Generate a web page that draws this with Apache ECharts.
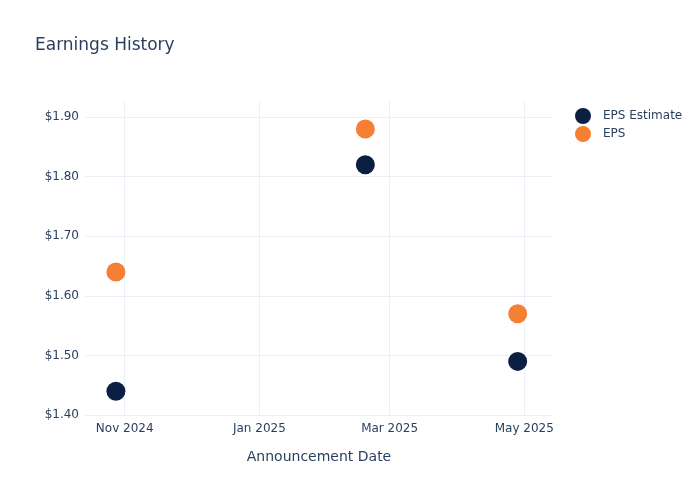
<!DOCTYPE html>
<html>
<head>
<meta charset="utf-8">
<script src="https://cdn.jsdelivr.net/npm/echarts@6/dist/echarts.min.js"></script>
<style>
  html, body { margin: 0; padding: 0; background: #fff; }
  #chart { width: 700px; height: 500px; }
</style>
</head>
<body>
<div id="chart"></div>
<script>
// announcement dates
var dates = ['2024-10-28', '2025-02-18', '2025-04-28'];
var epsEstimate = [1.44, 1.82, 1.49];
var epsActual = [1.64, 1.88, 1.57];
// tick labels on the date axis
var dateTicks = ['2024-11-01', '2025-01-01', '2025-03-01', '2025-05-01'];
var yTicks = [1.4, 1.5, 1.6, 1.7, 1.8, 1.9];

var months = ['Jan','Feb','Mar','Apr','May','Jun','Jul','Aug','Sep','Oct','Nov','Dec'];
function ts(s) { return new Date(s + 'T00:00:00Z').getTime(); }
function pairs(vals) {
  return vals.map(function (v, i) { return [ts(dates[i]), v]; });
}

var textColor = '#2a3f5f';
var gridColor = '#ebf0f8';
var font = 'DejaVu Sans';

var chart = echarts.init(document.getElementById('chart'));
chart.setOption({
  animation: false,
  color: ['#0b1f42', '#f58034'],
  title: {
    text: 'Earnings History',
    left: 35,
    top: 37,
    padding: 0,
    textStyle: { color: textColor, fontSize: 17, fontWeight: 'normal', fontFamily: font }
  },
  legend: {
    orient: 'vertical',
    left: 570,
    top: 103,
    itemWidth: 16,
    itemHeight: 16,
    itemGap: 2,
    icon: 'circle',
    textStyle: { color: textColor, fontSize: 12, fontFamily: font, padding: [0, 0, 0, 7] },
    data: ['EPS Estimate', 'EPS']
  },
  grid: { left: 85, right: 147, top: 101, bottom: 85 },
  xAxis: {
    type: 'value',
    min: ts('2024-10-14'),
    max: ts('2025-05-14'),
    name: 'Announcement Date',
    nameLocation: 'middle',
    nameGap: 35,
    nameTextStyle: { color: textColor, fontSize: 14, fontFamily: font },
    axisLine: { show: false },
    axisTick: { show: false, customValues: dateTicks.map(ts) },
    splitLine: { show: true, lineStyle: { color: gridColor, width: 1 } },
    axisLabel: {
      customValues: dateTicks.map(ts),
      color: textColor,
      fontSize: 12,
      fontFamily: font,
      margin: 8,
      formatter: function (v) {
        var d = new Date(v);
        return months[d.getUTCMonth()] + ' ' + d.getUTCFullYear();
      }
    }
  },
  yAxis: {
    type: 'value',
    min: 1.4,
    max: 1.927,
    axisLine: { show: false },
    axisTick: { show: false, customValues: yTicks },
    splitLine: { show: true, lineStyle: { color: gridColor, width: 1 } },
    axisLabel: {
      customValues: yTicks,
      color: textColor,
      fontSize: 12,
      fontFamily: font,
      margin: 6,
      formatter: function (v) { return '$' + v.toFixed(2); }
    }
  },
  series: [
    {
      name: 'EPS Estimate',
      type: 'scatter',
      symbolSize: 19,
      itemStyle: { opacity: 1 },
      data: pairs(epsEstimate)
    },
    {
      name: 'EPS',
      type: 'scatter',
      symbolSize: 19,
      itemStyle: { opacity: 1 },
      data: pairs(epsActual)
    }
  ]
});
</script>
</body>
</html>
